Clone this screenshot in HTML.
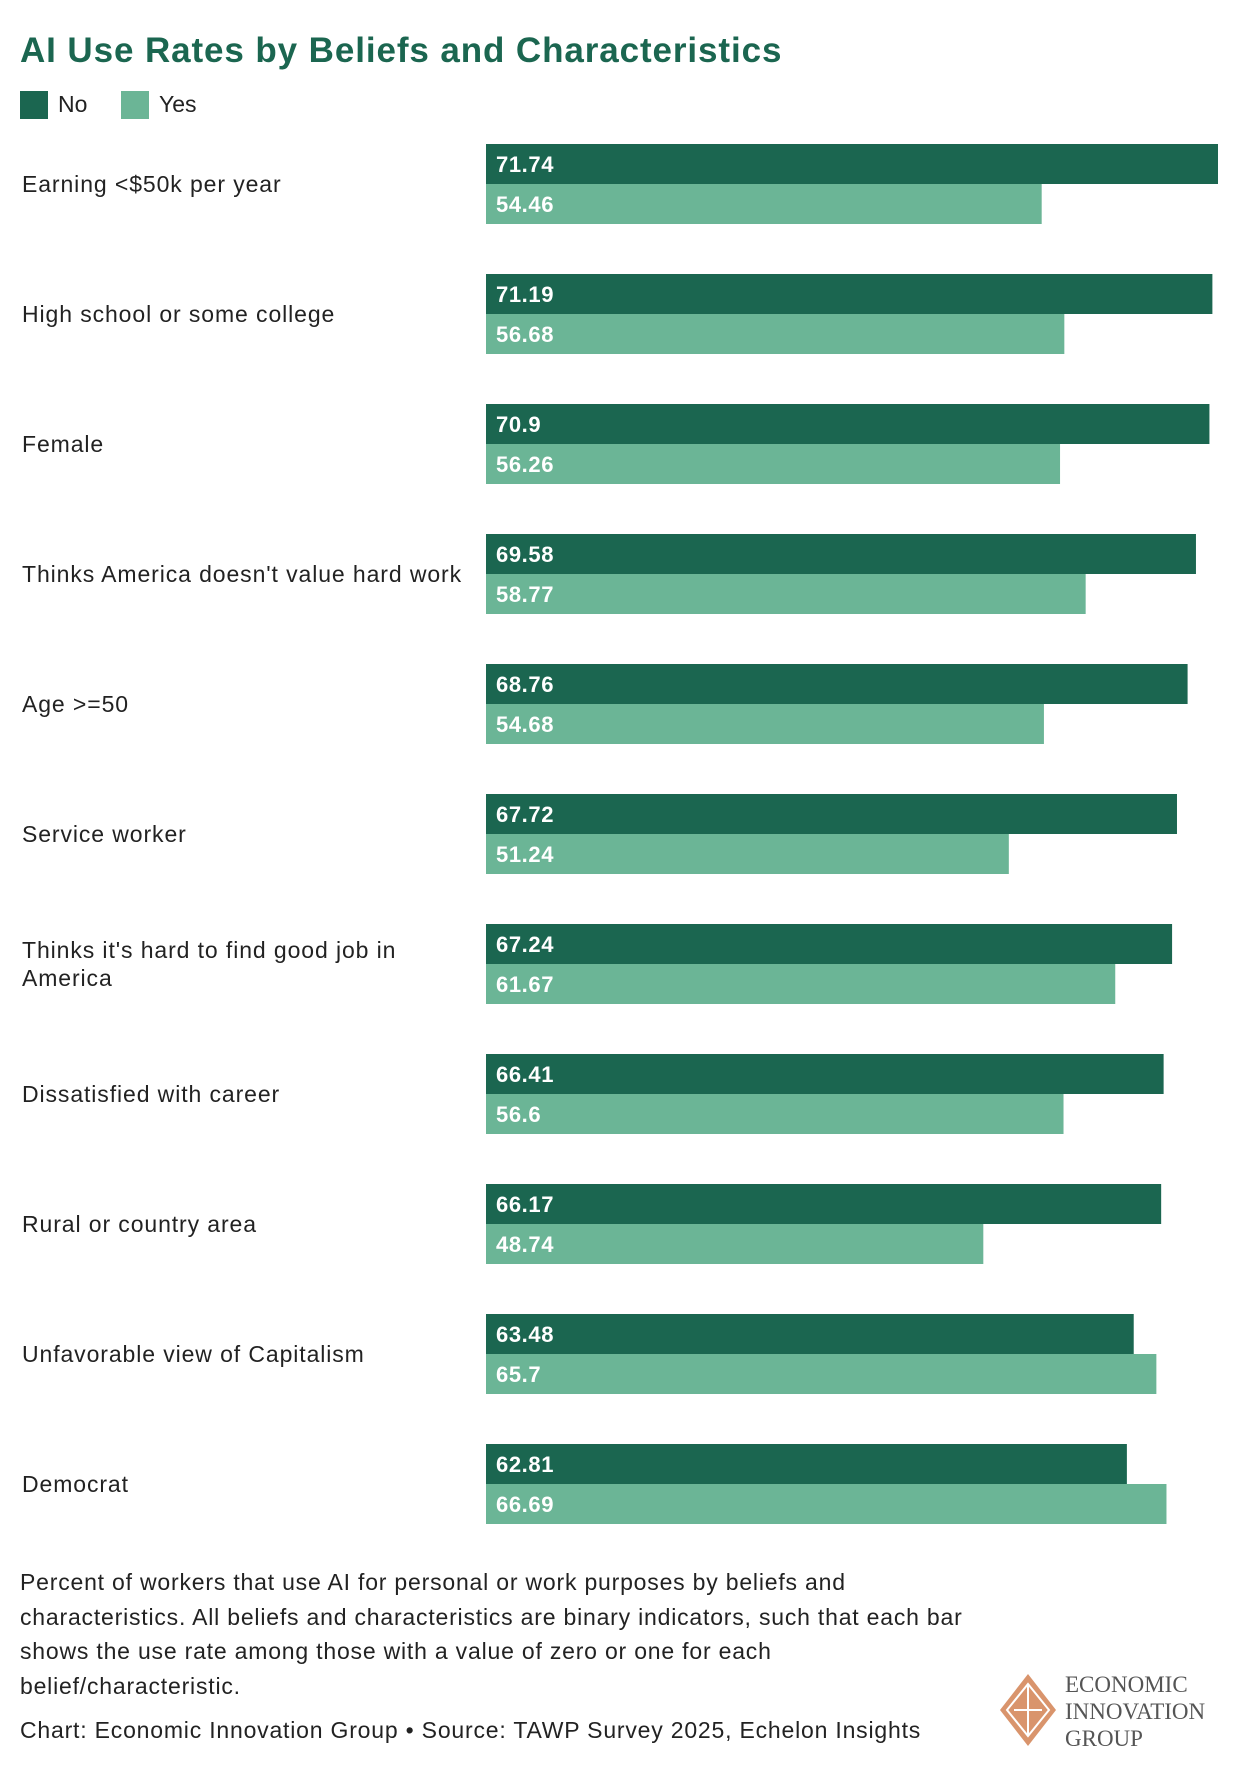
<!DOCTYPE html>
<html><head><meta charset="utf-8"><style>
body{margin:0;background:#fff;width:1240px;height:1766px;overflow:hidden;font-family:"Liberation Sans",sans-serif;}
svg{display:block}
</style></head><body>
<svg width="1240" height="1766" viewBox="0 0 1240 1766" id="chart">
<text x="20" y="62" font-size="35" font-weight="bold" letter-spacing="0.9" fill="#1b6650">AI Use Rates by Beliefs and Characteristics</text>
<g>
<rect x="20" y="91" width="28" height="28" fill="#1b6650"/>
<text x="58" y="112" font-size="23" fill="#222">No</text>
<rect x="121" y="91" width="28" height="28" fill="#6bb596"/>
<text x="159" y="112" font-size="23" fill="#222">Yes</text>
</g>
<g id="bars"></g>
<g font-size="23" letter-spacing="0.8" fill="#222">
<text x="20" y="1590">Percent of workers that use AI for personal or work purposes by beliefs and</text>
<text x="20" y="1625">characteristics. All beliefs and characteristics are binary indicators, such that each bar</text>
<text x="20" y="1659">shows the use rate among those with a value of zero or one for each</text>
<text x="20" y="1694">belief/characteristic.</text>
<text x="20" y="1738">Chart: Economic Innovation Group • Source: TAWP Survey 2025, Echelon Insights</text>
</g>
<g>
<polygon points="1028,1674 1056,1710 1028,1746 1000,1710" fill="#d9946c"/>
<polygon points="1028,1684 1049,1710 1028,1736 1007,1710" fill="none" stroke="#fff" stroke-width="2"/>
<line x1="1028" y1="1684" x2="1028" y2="1736" stroke="#fff" stroke-width="2"/>
<line x1="1014" y1="1710" x2="1042" y2="1710" stroke="#fff" stroke-width="2"/>
<g font-family="Liberation Serif,serif" font-size="23" fill="#555">
<text x="1065" y="1692">ECONOMIC</text>
<text x="1065" y="1719">INNOVATION</text>
<text x="1065" y="1746">GROUP</text>
</g>
</g>
</svg>
<script>
const categories=[["Earning <$50k per year"],["High school or some college"],["Female"],["Thinks America doesn't value hard work"],["Age >=50"],["Service worker"],["Thinks it's hard to find good job in","America"],["Dissatisfied with career"],["Rural or country area"],["Unfavorable view of Capitalism"],["Democrat"]];
const noValues=[71.74,71.19,70.9,69.58,68.76,67.72,67.24,66.41,66.17,63.48,62.81];
const yesValues=[54.46,56.68,56.26,58.77,54.68,51.24,61.67,56.6,48.74,65.7,66.69];
const X0=486,XW=732,maxV=Math.max(...noValues,...yesValues);
const xs=v=>v/maxV*XW;
const yTop=i=>144+130*i;
const NS="http://www.w3.org/2000/svg";
const g=document.getElementById('bars');
function mk(t,a){const e=document.createElementNS(NS,t);for(const k in a)e.setAttribute(k,a[k]);return e;}
categories.forEach((c,i)=>{
  const y=yTop(i);
  const lab=mk('text',{x:22,'font-size':23,'letter-spacing':0.9,fill:'#222'});
  
  
  const n=c.length;
  c.forEach((ln,j)=>{const ts=mk('tspan',{x:22,y:y+40+8-(n-1)*14+j*28});ts.textContent=ln;lab.appendChild(ts);});
  g.appendChild(lab);
  [[noValues[i],'#1b6650',0],[yesValues[i],'#6bb596',40]].forEach(([v,col,off],k)=>{
    const r=mk('rect',{x:X0,y:y+off,width:xs(v),height:40,fill:col});
    
    
    g.appendChild(r);
    const t=mk('text',{x:X0+10,y:y+off+28,'font-size':22,'letter-spacing':0.6,'font-weight':'bold',fill:'#fff'});
    
    
    t.textContent=String(v);
    g.appendChild(t);
  });
});
</script>
</body></html>
